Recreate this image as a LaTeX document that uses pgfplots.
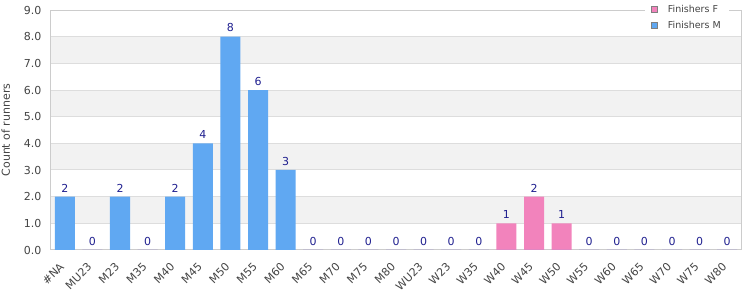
\documentclass[border=0pt]{standalone}
\usepackage{fontspec}
\setmainfont{DejaVu Sans}
\usepackage{pgfplots}
\usepackage{pgfplotstable}
\pgfplotsset{compat=1.18}
\definecolor{barM}{HTML}{60A8F2}
\definecolor{barF}{HTML}{F283BC}
\definecolor{lbl}{HTML}{1F1F8F}
\definecolor{tickc}{HTML}{444444}
\definecolor{band}{HTML}{F2F2F2}
\definecolor{gridc}{HTML}{DDDDDD}
\definecolor{axc}{HTML}{CCCCCC}
\pgfplotstableread{
x m f t
0 2 0 2
1 0 0 0
2 2 0 2
3 0 0 0
4 2 0 2
5 4 0 4
6 8 0 8
7 6 0 6
8 3 0 3
9 0 0 0
10 0 0 0
11 0 0 0
12 0 0 0
13 0 0 0
14 0 0 0
15 0 0 0
16 0 1 1
17 0 2 2
18 0 1 1
19 0 0 0
20 0 0 0
21 0 0 0
22 0 0 0
23 0 0 0
24 0 0 0
}\data
\begin{document}
\begin{tikzpicture}
\begin{axis}[
  name=ax,
  set layers,
  scale only axis,
  width=690pt, height=240pt,
  xmin=-0.5, xmax=24.5,
  ymin=0, ymax=9,
  ytick={0,1,...,9},
  xtick={0,...,24},
  xticklabels={\#NA,MU23,M23,M35,M40,M45,M50,M55,M60,M65,M70,M75,M80,WU23,W23,W35,W40,W45,W50,W55,W60,W65,W70,W75,W80},
  major tick length=0pt,
  tick style={draw=none},
  ymajorgrids,
  grid style={gridc, line width=1pt},
  axis line style={axc, line width=1pt},
  yticklabel style={/pgf/number format/fixed, /pgf/number format/precision=1, /pgf/number format/fixed zerofill, /pgf/number format/assume math mode=true, font=\fontsize{11}{13}\selectfont, text=tickc, xshift=-6pt},
  xticklabel style={rotate=45, anchor=north east, font=\fontsize{11}{13}\selectfont, text=tickc, inner sep=1pt, xshift=-11.4pt, yshift=-3.3pt},
  ylabel={Count of runners},
  ylabel style={font=\fontsize{11}{13}\selectfont, text=tickc},
  ylabel shift=7pt,
  legend style={at={(1,1)}, anchor=north east, xshift=-12pt, yshift=9pt, draw=none, fill=white, font=\fontsize{9.5}{11}\selectfont, row sep=3pt, inner xsep=6pt, inner ysep=2pt},
  legend cell align=left,
  legend image code/.code={\filldraw[#1, draw=gray, line width=0.7pt] (0pt,-3pt) rectangle (6pt,3pt); \path (14pt,0pt);},
]
\begin{pgfonlayer}{axis background}
\fill[band] (axis cs:-0.5,1) rectangle (axis cs:24.5,2);
\fill[band] (axis cs:-0.5,3) rectangle (axis cs:24.5,4);
\fill[band] (axis cs:-0.5,5) rectangle (axis cs:24.5,6);
\fill[band] (axis cs:-0.5,7) rectangle (axis cs:24.5,8);
\end{pgfonlayer}
\addplot[ybar, bar width=20pt, bar shift=0pt, draw=none, fill=barF, forget plot] table[x=x, y=f] {\data};
\addplot[ybar, bar width=20pt, bar shift=0pt, draw=none, fill=barM, forget plot] table[x=x, y=m] {\data};
\addplot[ybar, bar width=20pt, bar shift=0pt, draw=none, fill=none, forget plot,
  point meta=explicit, nodes near coords,
  nodes near coords style={font=\fontsize{11}{13}\selectfont, text=lbl, /pgf/number format/assume math mode=true, yshift=1pt}]
  table[x=x, y=t, meta=t] {\data};
\addlegendimage{fill=barF}
\addlegendentry{\textcolor{tickc}{Finishers F}}
\addlegendimage{fill=barM}
\addlegendentry{\textcolor{tickc}{Finishers M}}
\end{axis}
\pgfresetboundingbox
\path ([shift={(-51pt,-50pt)}]ax.south west) rectangle ([shift={(9pt,10pt)}]ax.north east);
\end{tikzpicture}
\end{document}
